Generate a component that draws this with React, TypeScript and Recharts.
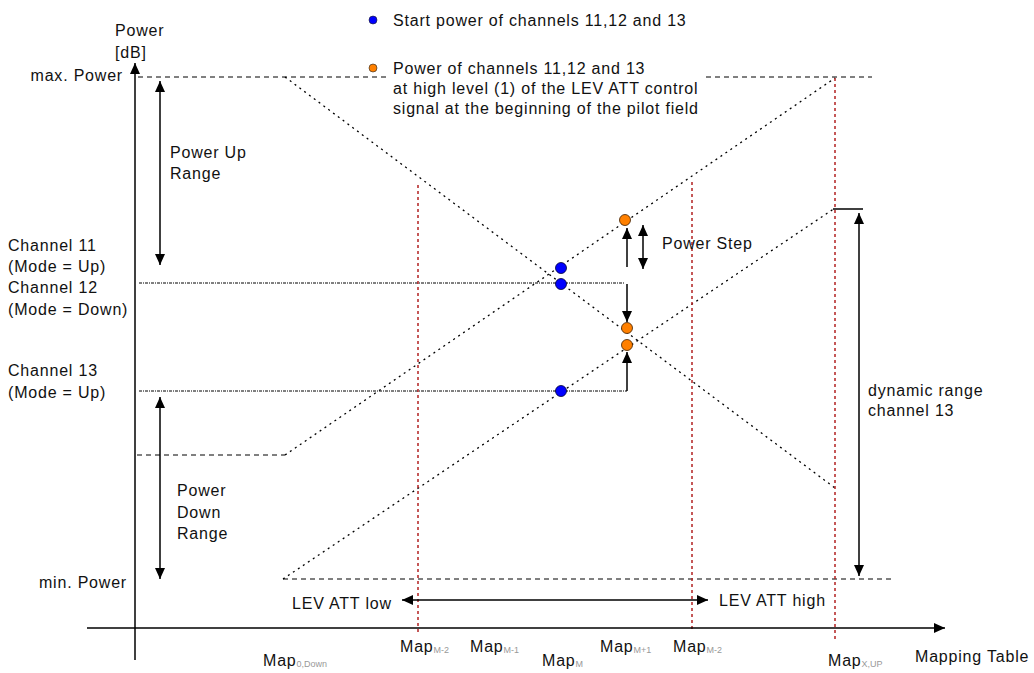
import { ComposedChart, XAxis, YAxis, ReferenceLine, Scatter } from 'recharts';

// diagram units: x = mapping table position, y = power (drawn top-down)
const maxPowerLevel = 77;
const minPowerLevel = 579;
const channel11Flat = 455;

const maxPowerSegments = [
  [138, 390],
  [706, 872],
];
const minPowerSegment = [283, 892];
const channel11FlatSegment = [137, 285];

// dotted channel slopes
const channel12Down = [
  { x: 285, y: 77 },
  { x: 835, y: 488 },
];
const channel11Up = [
  { x: 285, y: 455 },
  { x: 835, y: 78 },
];
const channel13Up = [
  { x: 283, y: 579 },
  { x: 835, y: 208 },
];

// horizontal start levels of channel 12 / 13
const channel12Level = [
  { x: 139, y: 283 },
  { x: 624, y: 283 },
];
const channel13Level = [
  { x: 139, y: 391 },
  { x: 627, y: 391 },
];

const dynTop = [
  { x: 833, y: 209 },
  { x: 863, y: 209 },
];

// red map markers
const mapMarkers = [
  { x: 418, top: 185, bottom: 632 },
  { x: 692, top: 182, bottom: 632 },
  { x: 835, top: 78, bottom: 642 },
];

const startPower = [
  { x: 561, y: 268 },
  { x: 561, y: 284 },
  { x: 561, y: 391 },
];
const levAttPower = [
  { x: 625, y: 220 },
  { x: 627, y: 328 },
  { x: 627, y: 345 },
];
const legendDots = [
  { x: 373, y: 20, color: '#0000ff' },
  { x: 373, y: 68, color: '#ff8000' },
];

type Arrow = { x1: number; y1: number; x2: number; y2: number; both?: boolean };
const arrows: Arrow[] = [
  { x1: 135, y1: 660, x2: 135, y2: 63 },
  { x1: 87, y1: 628, x2: 945, y2: 628 },
  { x1: 160, y1: 81, x2: 160, y2: 265, both: true },
  { x1: 160, y1: 397, x2: 160, y2: 579, both: true },
  { x1: 402, y1: 600, x2: 708, y2: 600, both: true },
  { x1: 859, y1: 213, x2: 859, y2: 576, both: true },
  { x1: 643, y1: 225, x2: 643, y2: 269, both: true },
  { x1: 627, y1: 267, x2: 627, y2: 228 },
  { x1: 627, y1: 284, x2: 627, y2: 322 },
  { x1: 627, y1: 391, x2: 627, y2: 352 },
];

type Label = { x: number; y: number; text: string; sub?: string; anchor?: 'start' | 'end' };
const labels: Label[] = [
  { x: 115, y: 30, text: 'Power' },
  { x: 115, y: 52, text: '[dB]' },
  { x: 123, y: 75, text: 'max. Power', anchor: 'end' },
  { x: 170, y: 152, text: 'Power Up' },
  { x: 170, y: 173, text: 'Range' },
  { x: 8, y: 245, text: 'Channel 11' },
  { x: 8, y: 266, text: '(Mode = Up)' },
  { x: 8, y: 287, text: 'Channel 12' },
  { x: 8, y: 309, text: '(Mode = Down)' },
  { x: 8, y: 370, text: 'Channel 13' },
  { x: 8, y: 392, text: '(Mode =  Up)' },
  { x: 177, y: 490, text: 'Power' },
  { x: 177, y: 512, text: 'Down' },
  { x: 177, y: 533, text: 'Range' },
  { x: 127, y: 582, text: 'min. Power', anchor: 'end' },
  { x: 292, y: 603, text: 'LEV ATT low' },
  { x: 719, y: 600, text: 'LEV ATT high' },
  { x: 393, y: 20, text: 'Start power of channels 11,12 and 13' },
  { x: 393, y: 68, text: 'Power of channels 11,12 and 13' },
  { x: 393, y: 88, text: 'at high level (1) of the LEV ATT control' },
  { x: 393, y: 108, text: 'signal at the beginning of the pilot field' },
  { x: 662, y: 243, text: 'Power Step' },
  { x: 868, y: 390, text: 'dynamic range' },
  { x: 868, y: 410, text: 'channel 13' },
  { x: 915, y: 656, text: 'Mapping Table' },
  { x: 263, y: 660, text: 'Map', sub: '0,Down' },
  { x: 400, y: 646, text: 'Map', sub: 'M-2' },
  { x: 470, y: 646, text: 'Map', sub: 'M-1' },
  { x: 542, y: 660, text: 'Map', sub: 'M' },
  { x: 600, y: 646, text: 'Map', sub: 'M+1' },
  { x: 673, y: 646, text: 'Map', sub: 'M-2' },
  { x: 828, y: 660, text: 'Map', sub: 'X,UP' },
];

const arrowHeads = arrows.flatMap((a) => {
  const ang = (Math.atan2(a.y2 - a.y1, a.x2 - a.x1) * 180) / Math.PI;
  const heads = [{ x: a.x2, y: a.y2, angle: ang }];
  if (a.both) heads.push({ x: a.x1, y: a.y1, angle: ang + 180 });
  return heads;
});

const FONT = '"Liberation Sans", Arial, sans-serif';
const dotted = '2 4';

export default function App() {
  return (
    <div style={{ position: 'absolute', left: 0, top: 0, background: '#fff' }}>
      <ComposedChart width={1034} height={673} margin={{ top: 0, right: 0, bottom: 0, left: 0 }}>
        <XAxis type="number" dataKey="x" domain={[0, 1034]} hide />
        <YAxis type="number" dataKey="y" domain={[0, 673]} reversed hide />

        {maxPowerSegments.map(([a, b], i) => (
          <ReferenceLine key={'mx' + i} segment={[{ x: a, y: maxPowerLevel }, { x: b, y: maxPowerLevel }]} stroke="#000" strokeDasharray="5 4" ifOverflow="visible" />
        ))}
        <ReferenceLine segment={[{ x: minPowerSegment[0], y: minPowerLevel }, { x: minPowerSegment[1], y: minPowerLevel }]} stroke="#000" strokeDasharray="5 4" ifOverflow="visible" />
        <ReferenceLine segment={[{ x: channel11FlatSegment[0], y: channel11Flat }, { x: channel11FlatSegment[1], y: channel11Flat }]} stroke="#000" strokeDasharray="5 4" ifOverflow="visible" />

        {[channel12Down, channel11Up, channel13Up].map((seg, i) => (
          <ReferenceLine key={'sl' + i} segment={seg} stroke="#000" strokeWidth={1.3} strokeDasharray={dotted} ifOverflow="visible" />
        ))}
        {[channel12Level, channel13Level].map((seg, i) => (
          <ReferenceLine key={'lv' + i} segment={seg} stroke="#000" strokeDasharray="3 1 1 1" ifOverflow="visible" />
        ))}
        <ReferenceLine segment={dynTop} stroke="#000" strokeWidth={1.5} ifOverflow="visible" />

        {mapMarkers.map((m, i) => (
          <ReferenceLine key={'mk' + i} segment={[{ x: m.x, y: m.top }, { x: m.x, y: m.bottom }]} stroke="#b22222" strokeWidth={1.5} strokeDasharray="3 3" ifOverflow="visible" />
        ))}

        {arrows.map((a, i) => (
          <ReferenceLine key={'ar' + i} segment={[{ x: a.x1, y: a.y1 }, { x: a.x2, y: a.y2 }]} stroke="#000" strokeWidth={1.5} ifOverflow="visible" />
        ))}

        <Scatter
          data={arrowHeads}
          isAnimationActive={false}
          shape={(p: any) => (
            <polygon points="0,0 -11,-5 -11,5" fill="#000" transform={`translate(${p.cx},${p.cy}) rotate(${p.payload.angle})`} />
          )}
        />
        <Scatter data={startPower} isAnimationActive={false} shape={(p: any) => <circle cx={p.cx} cy={p.cy} r={5.5} fill="#0000ff" stroke="#000033" strokeWidth={0.8} />} />
        <Scatter data={levAttPower} isAnimationActive={false} shape={(p: any) => <circle cx={p.cx} cy={p.cy} r={5.5} fill="#ff8000" stroke="#402000" strokeWidth={0.8} />} />
        <Scatter data={legendDots} isAnimationActive={false} shape={(p: any) => <circle cx={p.cx} cy={p.cy} r={4} fill={p.payload.color} stroke="#222" strokeWidth={0.6} />} />

        <Scatter
          data={labels}
          isAnimationActive={false}
          shape={(p: any) => {
            const l: Label = p.payload;
            return (
              <text x={p.cx} y={p.cy} dominantBaseline="central" textAnchor={l.anchor || 'start'} fontFamily={FONT} fontSize={16} letterSpacing={0.8} fill="#111">
                {l.text}
                {l.sub && (
                  <tspan dy={4} fontSize={9} letterSpacing={0} fill="#999">
                    {l.sub}
                  </tspan>
                )}
              </text>
            );
          }}
        />
      </ComposedChart>
    </div>
  );
}
